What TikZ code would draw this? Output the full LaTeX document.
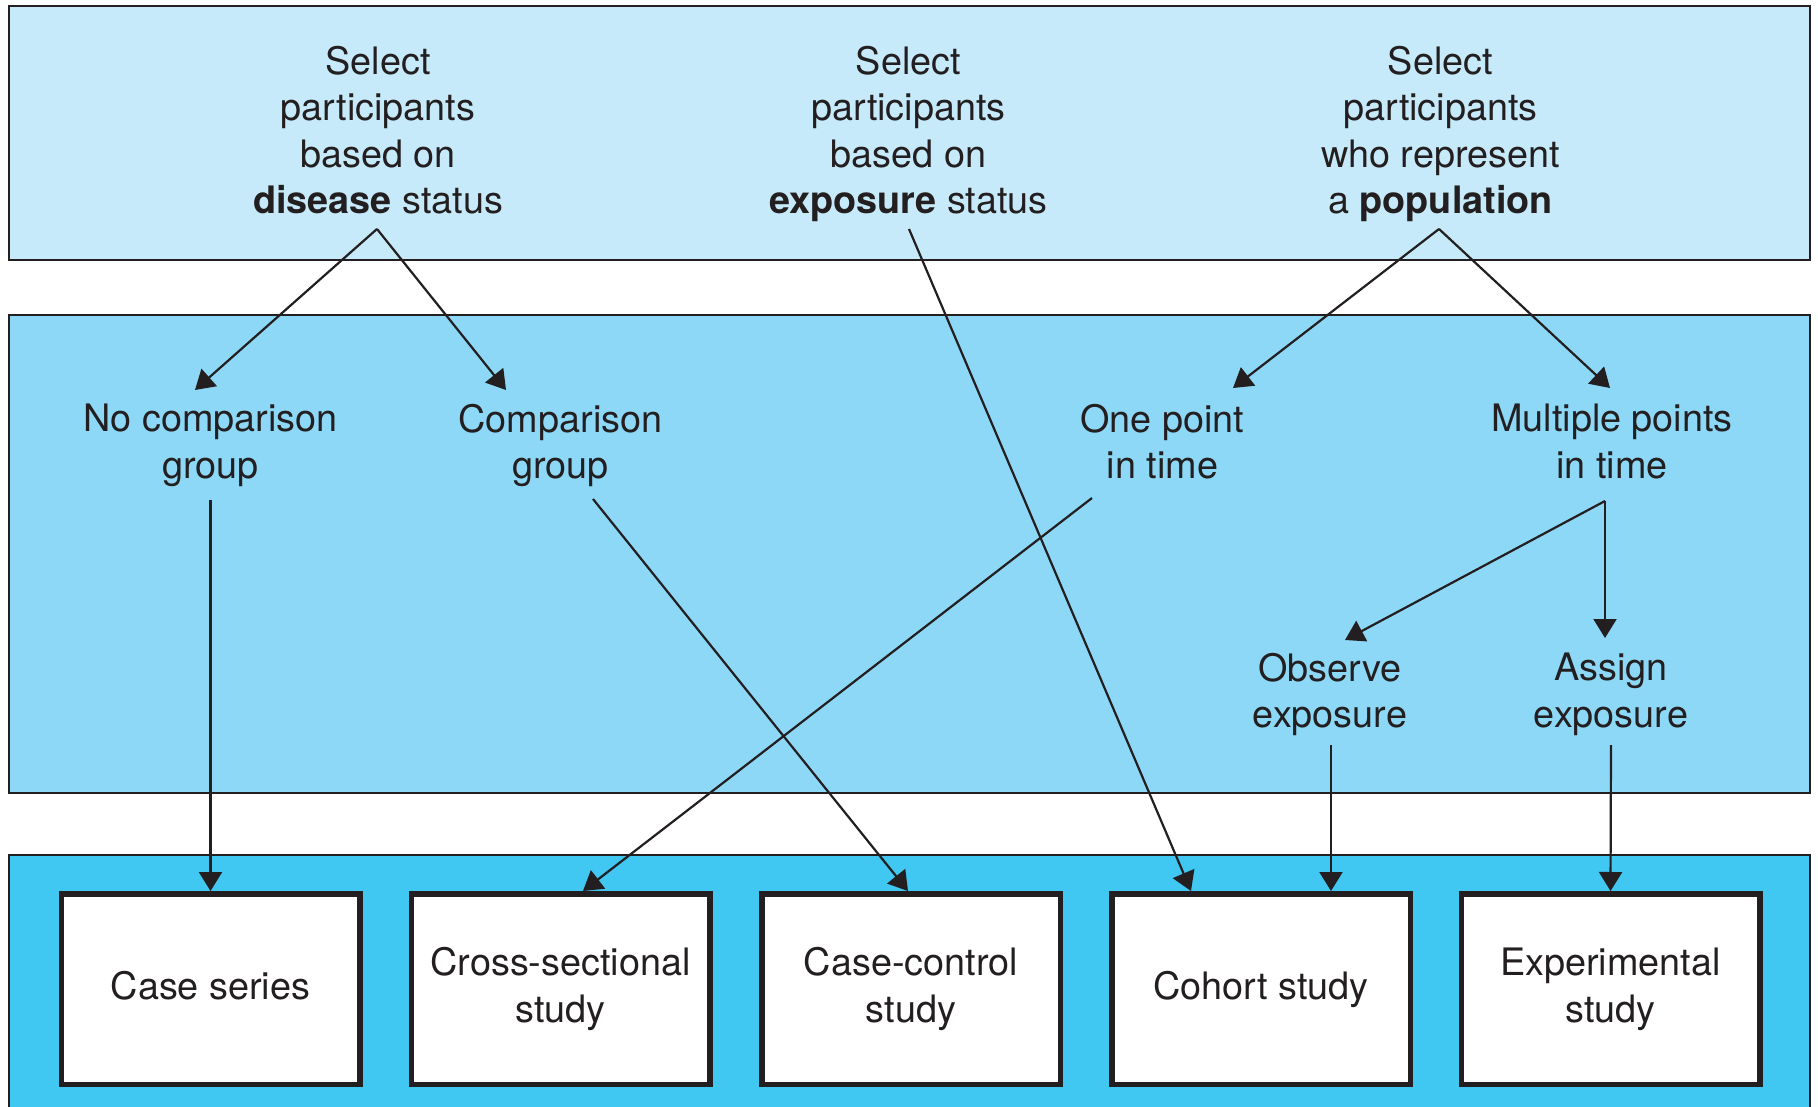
\documentclass[tikz,border=0pt]{standalone}
\usepackage{fontspec}
\setmainfont{TeX Gyre Heros}
\usetikzlibrary{arrows.meta,calc}
\definecolor{ink}{RGB}{35,31,32}
\definecolor{bandtop}{RGB}{198,234,249}
\definecolor{bandmid}{RGB}{141,216,247}
\definecolor{bandlow}{RGB}{64,199,242}
\begin{document}
\begin{tikzpicture}[x=1pt,y=-1pt,
  band/.style={draw=ink, line width=2.5pt},
  txt/.style={anchor=north, inner sep=0pt, align=center, text=ink,
    font=\fontsize{37.8}{46.3}\selectfont},
  studybox/.style={draw=ink, fill=white, line width=5.5pt,
    minimum width=298.5pt, minimum height=190.5pt, inner sep=0pt,
    align=center, text=ink, font=\fontsize{37.8}{47}\selectfont},
  link/.style={draw=ink, line width=2.2pt, -{Triangle[length=19pt,width=23pt]}}
]
\useasboundingbox (0,0) rectangle (1818,1107);
\clip (0,0) rectangle (1818,1107);

% three background bands
\path[band, fill=bandtop] (9,6) rectangle (1810,260);
\path[band, fill=bandmid] (9,315) rectangle (1810,793);
\path[band, fill=bandlow] (9,855) rectangle (1810,1130);

% selection criteria
\node[txt] (dis)  at (378,46)  {Select\\participants\\based on\\\textbf{disease} status};
\node[txt] (expo) at (908.5,46) {Select\\participants\\based on\\\textbf{exposure} status};
\node[txt] (popu) at (1440.5,46) {Select\\participants\\who represent\\a \textbf{population}};

% intermediate choices
\node[txt] (nocomp) at (210.5,404) {No comparison\\group};
\node[txt] (comp)   at (560.5,404) {Comparison\\group};
\node[txt] (onept)  at (1162.5,404) {One point\\in time};
\node[txt] (multi)  at (1612,404) {Multiple points\\in time};
\node[txt] (obs)    at (1330,653) {Observe\\exposure};
\node[txt] (asg)    at (1611,653) {Assign\\exposure};

% study designs
\node[studybox] (caseser) at (210.5,989) {Case series\vphantom{y}};
\node[studybox] (cross)   at (560.5,989) {Cross-sectional\\study};
\node[studybox] (casectl) at (911,989)   {Case-control\\study};
\node[studybox] (cohort)  at (1261,989)  {Cohort study};
\node[studybox] (exper)   at (1610.5,989) {Experimental\\study};

% connector end points
\coordinate (dis-out)    at (377,229);
\coordinate (expo-out)   at (909,229);
\coordinate (popu-out)   at (1439,229);
\coordinate (nocomp-in)  at (195,390);
\coordinate (comp-in)    at (506,390);
\coordinate (onept-in)   at (1233,388);
\coordinate (multi-in)   at (1610,388);
\coordinate (nocomp-out) at (210.5,500);
\coordinate (comp-out)   at (593,499);
\coordinate (onept-out)  at (1092,498);
\coordinate (multi-out)  at (1605,501);
\coordinate (obs-in)     at (1345,640);
\coordinate (asg-in)     at (1605,638);
\coordinate (obs-out)    at (1331,745);
\coordinate (asg-out)    at (1611,745);

% connectors
\draw[link] (dis-out) -- (nocomp-in);
\draw[link] (dis-out) -- (comp-in);
\draw[link] (popu-out) -- (onept-in);
\draw[link] (popu-out) -- (multi-in);
\draw[link] (expo-out) -- ($(cohort.north)+(-70,0)$);
\draw[link] (nocomp-out) -- (caseser.north);
\draw[link] (comp-out) -- ($(casectl.north)+(-3,0)$);
\draw[link] (onept-out) -- ($(cross.north)+(22.5,0)$);
\draw[link] (multi-out) -- (obs-in);
\draw[link] (multi-out) -- (asg-in);
\draw[link] (obs-out) -- ($(cohort.north)+(70,0)$);
\draw[link] (asg-out) -- (exper.north);
\end{tikzpicture}
\end{document}
